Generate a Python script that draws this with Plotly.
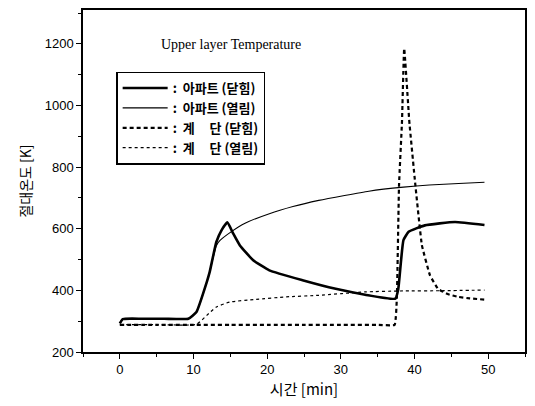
import plotly.graph_objects as go

# --- data ---
t_apt_closed = [0, 0.4, 3, 6, 9.3, 10.4, 11.8, 12.2, 13.1, 13.8, 14.6, 15.4, 16.3, 18.1, 20.3, 24.8, 29.3, 33.3, 37.4, 37.8, 38.5, 39.2, 41.4, 45.5, 49.5]
T_apt_closed = [293, 307, 308, 308, 308, 330, 427, 460, 557, 595, 621, 584, 546, 498, 465, 433, 405, 386, 373, 405, 563, 590, 611, 622, 612]

t_apt_open = [0, 0.4, 3, 6, 9.3, 10.4, 11.8, 12.2, 13.1, 13.6, 15.1, 17.0, 20.3, 23.5, 27.0, 30.5, 33.8, 38.5, 42.0, 46.0, 49.5]
T_apt_open = [293, 307, 308, 308, 308, 330, 427, 460, 545, 562, 590, 618, 649, 672, 692, 708, 722, 735, 742, 747, 751]

t_stair_closed = [0, 5, 10, 15, 20, 25, 30, 35, 37.3, 37.6, 37.9, 38.3, 38.6, 39.3, 40.1, 41.0, 42.1, 43.2, 44.5, 45.9, 47.5, 49.5]
T_stair_closed = [288, 288, 288, 288, 288, 288, 288, 288, 288, 373, 742, 947, 1185, 947, 746, 547, 449, 405, 388, 379, 374, 370]

t_stair_open = [0, 5, 10.4, 11.8, 13.1, 14.9, 18.5, 22.6, 27.0, 33.3, 38.0, 44.0, 49.5]
T_stair_open = [289, 289, 290, 319, 346, 362, 371, 379, 384, 395, 398, 399, 401]

names = ["<b>:  아파트 (닫힘)</b>", "<b>:  아파트 (열림)</b>",
         "<b>:  계\u00a0\u00a0\u00a0\u00a0\u00a0단 (닫힘)</b>", "<b>:  계\u00a0\u00a0\u00a0\u00a0\u00a0단 (열림)</b>"]
x_ticks = [0, 10, 20, 30, 40, 50]
y_ticks = [200, 400, 600, 800, 1000, 1200]

fig = go.Figure()
fig.add_trace(go.Scatter(x=t_apt_closed, y=T_apt_closed, mode="lines", name=names[0],
                         line=dict(color="black", width=2.6, shape="spline", smoothing=0.4)))
fig.add_trace(go.Scatter(x=t_apt_open, y=T_apt_open, mode="lines", name=names[1],
                         line=dict(color="black", width=1.1, shape="spline", smoothing=0.5)))
fig.add_trace(go.Scatter(x=t_stair_closed, y=T_stair_closed, mode="lines", name=names[2],
                         line=dict(color="black", width=2.2, dash="4px,3px", shape="spline", smoothing=0.3)))
fig.add_trace(go.Scatter(x=t_stair_open, y=T_stair_open, mode="lines", name=names[3],
                         line=dict(color="black", width=1.2, dash="3px,3px", shape="spline", smoothing=0.5)))

axis_common = dict(showgrid=False, zeroline=False, showline=True, linecolor="black",
                   linewidth=1.5, mirror=True, ticks="outside", ticklen=5, tickwidth=1.3,
                   tickcolor="black",
                   tickfont=dict(family="Liberation Sans", size=13, color="black"))

fig.update_xaxes(range=[-5, 55], tickvals=x_ticks,
                 minor=dict(dtick=5, ticks="outside", ticklen=3, tickcolor="black", tickwidth=1),
                 title=dict(text="시간 [min]", font=dict(family="Noto Sans CJK KR", size=15, color="black"), standoff=8),
                 **axis_common)
fig.update_yaxes(range=[200, 1310], tickvals=y_ticks,
                 minor=dict(dtick=100, ticks="outside", ticklen=3, tickcolor="black", tickwidth=1),
                 title=dict(text="절대온도 [K]", font=dict(family="Noto Sans CJK KR", size=14, color="black"), standoff=10),
                 **axis_common)

fig.add_annotation(text="Upper layer Temperature", xref="paper", yref="paper",
                   x=0.335, y=0.9, xanchor="center", yanchor="middle", showarrow=False,
                   font=dict(family="Liberation Serif", size=14, color="black"))

fig.update_layout(
    width=535, height=406,
    margin=dict(l=83, r=9, t=8, b=54),
    paper_bgcolor="white", plot_bgcolor="white",
    showlegend=True,
    legend=dict(x=0.075, y=0.82, xanchor="left", yanchor="top",
                bordercolor="black", borderwidth=1.5, bgcolor="white",
                font=dict(family="Noto Sans CJK KR", size=13, color="black"),
                tracegroupgap=0, itemwidth=45),
)

fig.write_html("out.html")
